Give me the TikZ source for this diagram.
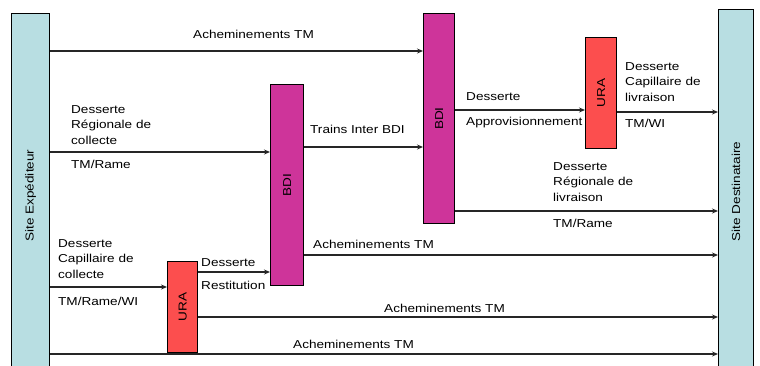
\documentclass[tikz,border=0pt]{standalone}
\usepackage{fontspec}
\setmainfont[FakeStretch=1.18]{Liberation Sans}
\usetikzlibrary{arrows.meta}
\definecolor{siteblue}{RGB}{184,222,226}
\definecolor{bdimag}{RGB}{206,52,154}
\definecolor{urared}{RGB}{252,78,78}
\tikzset{
  box/.style={draw=black, line width=1.2pt, inner sep=0pt, anchor=north west},
  site/.style={box, fill=siteblue},
  bdibox/.style={box, fill=bdimag},
  urabox/.style={box, fill=urared},
  arr/.style={draw=black!85, line width=1.3pt, -{Stealth[length=6pt,width=5pt]}},
  plain/.style={draw=black!85, line width=1.3pt},
  lbl/.style={inner sep=0pt, anchor=base west, font=\fontsize{11.5}{15.7}\selectfont},
  mlbl/.style={inner sep=0pt, anchor=north west, align=left, font=\fontsize{11.5}{15.7}\selectfont},
}
\begin{document}
\begin{tikzpicture}[x=1pt,y=-1pt]
\path[use as bounding box, clip] (0,0) rectangle (760,365);
% boxes
\node[site, minimum width=38pt, minimum height=364pt] (SE) at (11,13) {\rotatebox{90}{\fontsize{11.5}{14}\selectfont Site Expéditeur}};
\node[site, minimum width=35pt, minimum height=364pt] (SD) at (718,9) {\rotatebox{90}{\fontsize{11.5}{14}\selectfont Site Destinataire}};
\node[bdibox, minimum width=33pt, minimum height=201pt] (BDI1) at (270,84) {\rotatebox{90}{\fontsize{11.5}{14}\selectfont BDI}};
\node[bdibox, minimum width=31pt, minimum height=210pt] (BDI2) at (423,13) {\rotatebox{90}{\fontsize{11.5}{14}\selectfont BDI}};
\node[urabox, minimum width=31pt, minimum height=111pt] (URA2) at (585,37) {\rotatebox{90}{\fontsize{11.5}{14}\selectfont URA}};
\node[urabox, minimum width=30pt, minimum height=91pt] (URA1) at (167,261) {\rotatebox{90}{\fontsize{11.5}{14}\selectfont URA}};
% connectors
\draw[arr] (SE.east |- 0,51) -- (BDI2.west |- 0,51);
\draw[arr] (SE.east |- 0,152) -- (BDI1.west |- 0,152);
\draw[arr] (BDI1.east |- 0,147) -- (BDI2.west |- 0,147);
\draw[arr] (BDI2.east |- 0,110) -- (URA2.west |- 0,110);
\draw[arr] (URA2.east |- 0,112) -- (SD.west |- 0,112);
\draw[arr] (BDI2.east |- 0,211) -- (SD.west |- 0,211);
\draw[arr] (BDI1.east |- 0,255) -- (SD.west |- 0,255);
\draw[arr] (SE.east |- 0,287) -- (URA1.west |- 0,287);
\draw[arr] (URA1.east |- 0,272) -- (BDI1.west |- 0,272);
\draw[arr] (URA1.east |- 0,317) -- (SD.west |- 0,317);
\draw[arr] (SE.east |- 0,354) -- (SD.west |- 0,354);
% labels
\node[lbl] (t1) at (193,38) {Acheminements TM};
\node[mlbl] (t2) at (71,105) {Desserte\\Régionale de\\collecte};
\node[lbl] (t2b) at (71,168) {TM/Rame};
\node[lbl] (t3) at (310,133) {Trains Inter BDI};
\node[lbl] (t4) at (466,100) {Desserte};
\node[lbl] (t4b) at (466,125) {Approvisionnement};
\node[mlbl] (t5) at (625,62) {Desserte\\Capillaire de\\livraison};
\node[lbl] (t5b) at (625,127) {TM/WI};
\node[mlbl] (t6) at (553,162) {Desserte\\Régionale de\\livraison};
\node[lbl] (t6b) at (553,227) {TM/Rame};
\node[lbl] (t7) at (313,248) {Acheminements TM};
\node[mlbl] (t8) at (58,239) {Desserte\\Capillaire de\\collecte};
\node[lbl] (t8b) at (58,305) {TM/Rame/WI};
\node[lbl] (t9) at (201,266) {Desserte};
\node[lbl] (t9b) at (201,289) {Restitution};
\node[lbl] (t10) at (384,312) {Acheminements TM};
\node[lbl] (t11) at (293,348) {Acheminements TM};
\end{tikzpicture}
\end{document}
